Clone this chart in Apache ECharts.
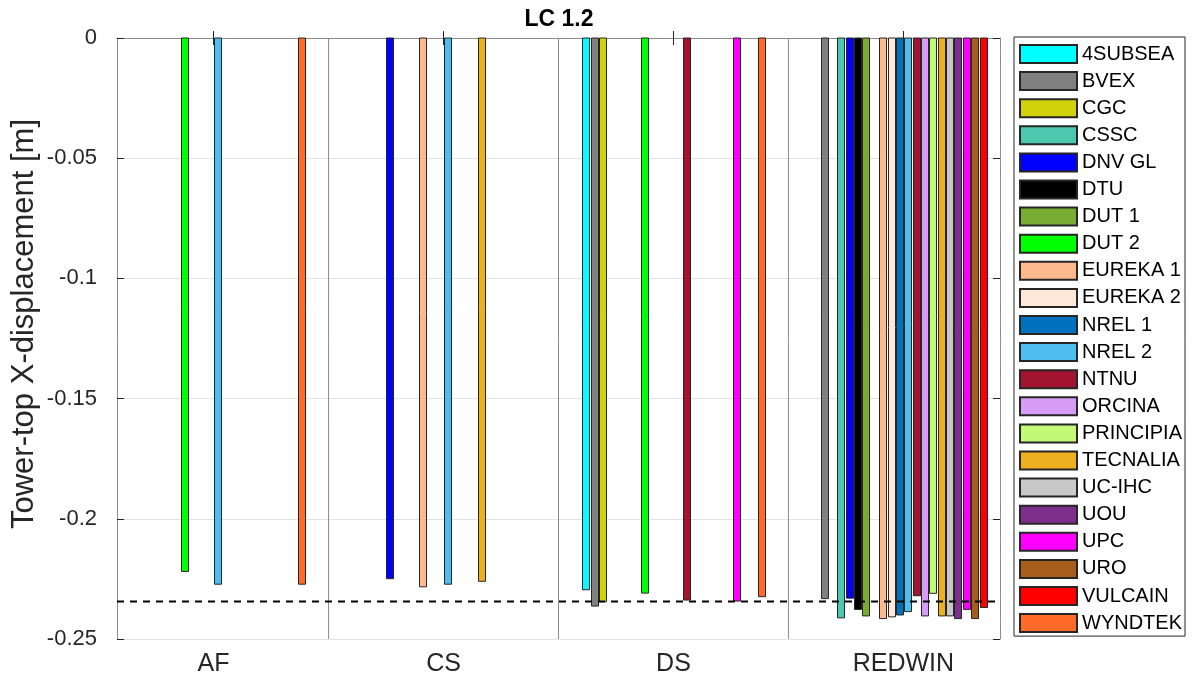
<!DOCTYPE html>
<html>
<head>
<meta charset="utf-8">
<title>LC 1.2</title>
<script src="https://cdn.jsdelivr.net/npm/echarts@6/dist/echarts.min.js"></script>
<style>
  html, body { margin: 0; padding: 0; background: #ffffff; }
  #chart { width: 1192px; height: 683px; }
</style>
</head>
<body>
<div id="chart"></div>
<script>
// Load case groups along the x axis
const categories = ['AF', 'CS', 'DS', 'REDWIN'];

// Participants, in legend order
const seriesNames = [
  '4SUBSEA', 'BVEX', 'CGC', 'CSSC', 'DNV GL', 'DTU', 'DUT 1', 'DUT 2',
  'EUREKA 1', 'EUREKA 2', 'NREL 1', 'NREL 2', 'NTNU', 'ORCINA', 'PRINCIPIA',
  'TECNALIA', 'UC-IHC', 'UOU', 'UPC', 'URO', 'VULCAIN', 'WYNDTEK'
];

const seriesColors = [
  '#00FFFF', '#808080', '#D2D20C', '#4CC8AE', '#0000FF', '#000000', '#77AC30', '#00FF00',
  '#FFB98C', '#FFE8DA', '#0072BD', '#4DBEEE', '#A2142F', '#D69CF6', '#C2F977',
  '#EDB120', '#C8C8C8', '#7E2F8E', '#FF00FF', '#A65E1A', '#FF0000', '#FF6A2B'
];

// Tower-top X-displacement [m] per participant (null = no result)
const afValues = [
  null, null, null, null, null, null, null, -0.2219,
  null, null, null, -0.2272, null, null, null,
  null, null, null, null, null, null, -0.2272
];
const csValues = [
  null, null, null, null, -0.2249, null, null, null,
  -0.2283, null, null, -0.2272, null, null, null,
  -0.2260, null, null, null, null, null, null
];
const dsValues = [
  -0.2295, -0.2363, -0.2345, null, null, null, null, -0.2309,
  null, null, null, null, -0.2338, null, null,
  null, null, null, -0.2342, null, null, -0.2324
];
const redwinValues = [
  null, -0.2332, null, -0.2412, -0.2330, -0.2377, -0.2404, null,
  -0.2415, -0.2408, -0.2400, -0.2386, -0.2320, -0.2404, -0.2310,
  -0.2404, -0.2404, -0.2415, -0.2377, -0.2415, -0.2369, null
];

// Reference displacement (dashed line)
const referenceValue = -0.2344;

// Axis ranges
const xMin = 0.58, xMax = 4.42;
const yMin = -0.25, yMax = 0, yStep = 0.05;

const groupValues = [afValues, csValues, dsValues, redwinValues];
const FONT = "'Liberation Sans', Arial, Helvetica, sans-serif";
const TEXT_COLOR = '#262626';
const BOX_COLOR = '#8c8c8c';

// Grouped bar geometry in x-axis units: groups are 0.8 wide, bars take 0.8 of a slot
const nSeries = seriesNames.length;
const slot = 0.8 / nSeries;
const barFrac = 0.8;

function makeRenderItem(seriesIdx) {
  return function (params, api) {
    const xc = api.value(0) + (seriesIdx - (nSeries - 1) / 2) * slot;
    const half = slot * barFrac / 2;
    const p0 = api.coord([xc - half, 0]);
    const p1 = api.coord([xc + half, api.value(1)]);
    return {
      type: 'rect',
      shape: {
        x: Math.round(p0[0]) + 0.5,
        y: p0[1],
        width: Math.round(p1[0] - p0[0]),
        height: p1[1] - p0[1]
      },
      style: { fill: seriesColors[seriesIdx], stroke: '#262626', lineWidth: 1 }
    };
  };
}

const barSeries = seriesNames.map((name, s) => ({
  name: name,
  type: 'custom',
  xAxisIndex: 0,
  yAxisIndex: 0,
  renderItem: makeRenderItem(s),
  itemStyle: { color: seriesColors[s], borderColor: '#262626', borderWidth: 1 },
  encode: { x: 0, y: 1 },
  data: categories
    .map((c, i) => [i + 1, groupValues[i][s]])
    .filter(d => d[1] !== null),
  z: 3
}));

// Separators between the load case groups
const separatorSeries = [1.5, 2.5, 3.5].map((x, k) => ({
  name: 'separator' + k,
  type: 'line',
  data: [[x, yMin], [x, yMax]],
  symbol: 'none',
  silent: true,
  lineStyle: { color: BOX_COLOR, width: 1 },
  z: 2
}));

// Reference level across the whole plot
const referenceSeries = {
  name: 'reference',
  type: 'line',
  data: [[xMin, referenceValue], [xMax, referenceValue]],
  symbol: 'none',
  silent: true,
  lineStyle: { color: '#000000', width: 2, type: [7, 6] },
  z: 5
};

const chart = echarts.init(document.getElementById('chart'), null, { renderer: 'canvas' });

chart.setOption({
  animation: false,
  backgroundColor: '#ffffff',
  title: {
    text: 'LC 1.2',
    left: 554,
    top: 3,
    textAlign: 'center',
    textStyle: { fontFamily: FONT, fontSize: 23, fontWeight: 'bold', color: '#000000' }
  },
  // Vertical axis title
  graphic: [{
    type: 'text',
    x: 24,
    y: 324,
    rotation: Math.PI / 2,
    style: {
      text: 'Tower-top X-displacement [m]',
      fontFamily: FONT,
      fontSize: 31,
      fill: TEXT_COLOR,
      align: 'center',
      verticalAlign: 'middle'
    }
  }],
  grid: { left: 117, top: 38, width: 883, height: 601, containLabel: false, outerBoundsMode: 'none' },
  legend: {
    orient: 'vertical',
    left: 1014,
    top: 37,
    padding: [7, 3, 3, 5],
    itemWidth: 57,
    itemHeight: 18,
    itemGap: 7.1,
    borderColor: '#262626',
    borderWidth: 1,
    selectedMode: false,
    textStyle: { fontFamily: FONT, fontSize: 20, color: '#000000' },
    data: seriesNames.map(n => ({ name: n, icon: 'rect' }))
  },
  xAxis: [
    {
      type: 'value',
      min: xMin,
      max: xMax,
      position: 'bottom',
      axisLine: { show: true, lineStyle: { color: BOX_COLOR, width: 1 } },
      axisTick: { show: true, inside: true, length: 7, customValues: [1, 2, 3, 4], lineStyle: { color: '#262626' } },
      axisLabel: {
        show: true,
        customValues: [1, 2, 3, 4],
        formatter: v => categories[Math.round(v) - 1],
        margin: 13,
        fontFamily: FONT,
        fontSize: 25,
        color: TEXT_COLOR
      },
      splitLine: { show: false }
    },
    {
      type: 'value',
      min: xMin,
      max: xMax,
      position: 'top',
      axisLine: { show: true, lineStyle: { color: BOX_COLOR, width: 1 } },
      axisTick: { show: true, inside: true, length: 7, customValues: [1, 2, 3, 4], lineStyle: { color: '#262626' } },
      axisLabel: { show: false },
      splitLine: { show: false }
    }
  ],
  yAxis: [
    {
      type: 'value',
      min: yMin,
      max: yMax,
      interval: yStep,
      position: 'left',
      axisLine: { show: true, lineStyle: { color: BOX_COLOR, width: 1 } },
      axisTick: { show: true, inside: true, length: 7, lineStyle: { color: '#262626' } },
      axisLabel: {
        margin: 20,
        fontFamily: FONT,
        fontSize: 22,
        color: TEXT_COLOR,
        formatter: v => String(+v.toFixed(2))
      },
      splitLine: { show: true, lineStyle: { color: '#e3e3e3', width: 1 } }
    },
    {
      type: 'value',
      min: yMin,
      max: yMax,
      interval: yStep,
      position: 'right',
      axisLine: { show: true, lineStyle: { color: BOX_COLOR, width: 1 } },
      axisTick: { show: true, inside: true, length: 7, lineStyle: { color: '#262626' } },
      axisLabel: { show: false },
      splitLine: { show: false }
    }
  ],
  series: barSeries.concat(separatorSeries, [referenceSeries])
});
</script>
</body>
</html>
